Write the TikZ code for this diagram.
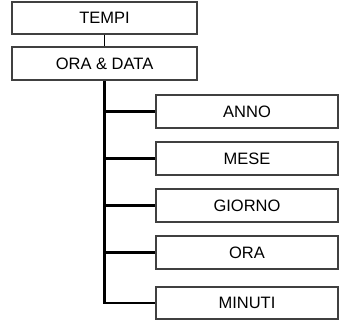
\documentclass[tikz,border=0pt]{standalone}
\usepackage{fontspec}
\setmainfont{Liberation Sans}
\begin{document}
\begin{tikzpicture}[x=1pt,y=-1pt,
  box/.style={draw=black!75, line width=1.3pt, fill=white, minimum height=32pt, inner sep=0pt, font=\fontsize{16.5}{18}\selectfont},
  topbox/.style={box, minimum width=185pt},
  childbox/.style={box, minimum width=182pt},
  trunk/.style={line width=2.7pt, black},
  branch/.style={line width=2.2pt, black},
  link/.style={line width=1.5pt, black}]
\useasboundingbox (0,0) rectangle (345,321);
\node[topbox] (tempi) at (104.5,18) {TEMPI};
\node[topbox, minimum height=33pt] (od) at (104.5,63.5) {ORA \& DATA};
\node[childbox, minimum height=33pt] (anno) at (247,111.5) {ANNO};
\node[childbox, minimum height=33pt] (mese) at (247,158.5) {MESE};
\node[childbox, minimum height=33pt] (giorno) at (247,205.5) {GIORNO};
\node[childbox, minimum height=33pt] (ora) at (247,252.5) {ORA};
\node[childbox] (minuti) at (247,303) {MINUTI};
\draw[link] (tempi.south) -- (od.north);
\draw[branch] (od.south |- anno.west) -- (anno.west);
\draw[branch] (od.south |- mese.west) -- (mese.west);
\draw[branch] (od.south |- giorno.west) -- (giorno.west);
\draw[branch] (od.south |- ora.west) -- (ora.west);
\draw[trunk, line join=miter] (od.south) -- (od.south |- minuti.west) -- (minuti.west);
\end{tikzpicture}
\end{document}
